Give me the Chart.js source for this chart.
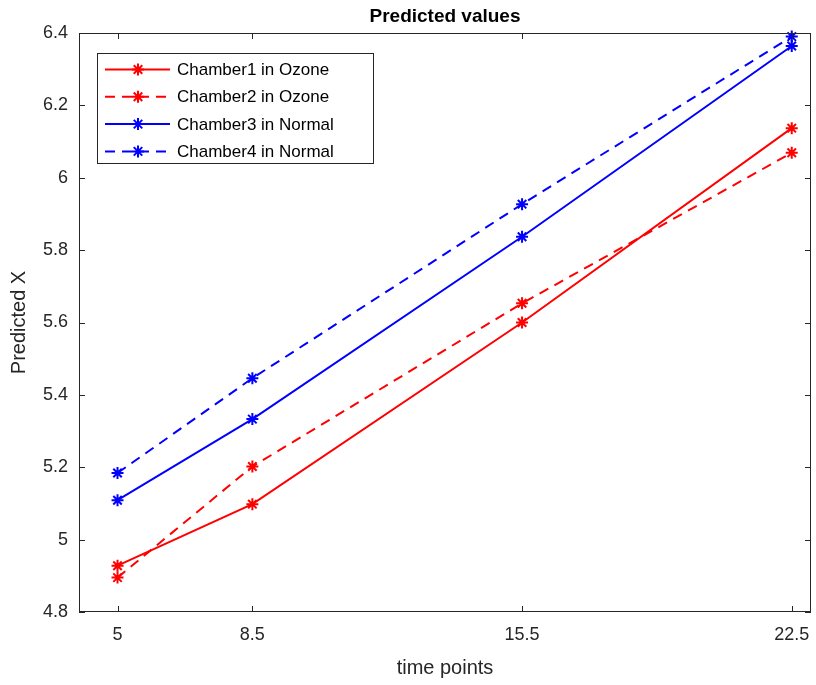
<!DOCTYPE html>
<html>
<head>
<meta charset="utf-8">
<script src="https://cdn.jsdelivr.net/npm/chart.js@4.4.1/dist/chart.umd.min.js"></script>
<style>
  html, body { margin: 0; padding: 0; background: #fff; }
  #wrap { width: 816px; height: 685px; }
</style>
</head>
<body>
<div id="wrap"><canvas id="chart" width="816" height="685"></canvas></div>
<script>
const timePoints = [5, 8.5, 15.5, 22.5];
const chamber1 = [4.928, 5.098, 5.600, 6.137];
const chamber2 = [4.895, 5.202, 5.653, 6.069];
const chamber3 = [5.109, 5.333, 5.837, 6.364];
const chamber4 = [5.184, 5.446, 5.927, 6.390];
const seriesNames = ['Chamber1 in Ozone', 'Chamber2 in Ozone', 'Chamber3 in Normal', 'Chamber4 in Normal'];
const yTicks = [4.8, 5, 5.2, 5.4, 5.6, 5.8, 6, 6.2, 6.4];

const FONT = '"Liberation Sans", Arial, Helvetica, sans-serif';
const INK = '#262626';

const toPts = (vals) => vals.map((v, i) => ({ x: timePoints[i], y: v }));

const mkSet = (label, vals, color, dashed) => ({
  label,
  data: toPts(vals),
  borderColor: color,
  backgroundColor: color,
  borderWidth: 2,
  borderDash: dashed ? [10, 7] : [],
  pointStyle: 'star',
  pointRadius: 6,
  pointHoverRadius: 6,
  pointBorderWidth: 2,
  pointBorderColor: color,
  tension: 0,
  fill: false,
  clip: false,
});

// no extra room for tick label overflow, the layout padding handles it
const noOverflow = (s) => {
  s.paddingLeft = 0; s.paddingRight = 0; s.paddingTop = 0; s.paddingBottom = 0;
};

// box, inward ticks, titles, legend
const matlabLook = {
  id: 'matlabLook',
  afterDraw(chart) {
    const { ctx, chartArea: a, scales } = chart;
    const tl = 6;
    ctx.save();
    ctx.strokeStyle = INK;
    ctx.lineWidth = 1;
    ctx.setLineDash([]);
    ctx.strokeRect(a.left + 0.5, a.top + 0.5, a.right - a.left - 1, a.bottom - a.top - 1);
    ctx.beginPath();
    scales.x.ticks.forEach((t) => {
      const px = Math.round(scales.x.getPixelForValue(t.value)) + 0.5;
      ctx.moveTo(px, a.bottom); ctx.lineTo(px, a.bottom - tl);
      ctx.moveTo(px, a.top); ctx.lineTo(px, a.top + tl);
    });
    scales.y.ticks.forEach((t) => {
      const py = Math.round(scales.y.getPixelForValue(t.value)) + 0.5;
      ctx.moveTo(a.left, py); ctx.lineTo(a.left + tl, py);
      ctx.moveTo(a.right, py); ctx.lineTo(a.right - tl, py);
    });
    ctx.stroke();

    // titles
    const cx = (a.left + a.right) / 2;
    ctx.fillStyle = '#000';
    ctx.textAlign = 'center';
    ctx.textBaseline = 'middle';
    ctx.font = 'bold 19px ' + FONT;
    ctx.fillText('Predicted values', cx, 17);
    ctx.fillStyle = INK;
    ctx.font = '20px ' + FONT;
    ctx.fillText('time points', cx, 668);
    ctx.save();
    ctx.translate(19, (a.top + a.bottom) / 2);
    ctx.rotate(-Math.PI / 2);
    ctx.fillText('Predicted X', 0, 0);
    ctx.restore();

    // legend
    const lx = 97, ly = 53, lw = 276, lh = 110;
    ctx.fillStyle = '#fff';
    ctx.fillRect(lx, ly, lw, lh);
    ctx.strokeStyle = INK;
    ctx.strokeRect(lx + 0.5, ly + 0.5, lw, lh);
    ctx.font = '17px ' + FONT;
    ctx.textAlign = 'left';
    chart.data.datasets.forEach((ds, i) => {
      const y = 69.5 + i * 27.3;
      ctx.strokeStyle = ds.borderColor;
      ctx.lineWidth = 2;
      ctx.setLineDash(ds.borderDash);
      ctx.beginPath();
      ctx.moveTo(105, y); ctx.lineTo(170, y);
      ctx.stroke();
      ctx.setLineDash([]);
      Chart.helpers.drawPoint(ctx, { pointStyle: 'star', radius: 6, rotation: 0, borderWidth: 2 }, 138, y);
      ctx.fillStyle = '#000';
      ctx.fillText(ds.label, 177, y + 1);
    });
    ctx.restore();
  },
};

new Chart(document.getElementById('chart').getContext('2d'), {
  type: 'line',
  data: {
    datasets: [
      mkSet(seriesNames[0], chamber1, '#ff0000', false),
      mkSet(seriesNames[1], chamber2, '#ff0000', true),
      mkSet(seriesNames[2], chamber3, '#0000ff', false),
      mkSet(seriesNames[3], chamber4, '#0000ff', true),
    ],
  },
  options: {
    responsive: false,
    animation: false,
    layout: { autoPadding: false, padding: { left: 0, right: 5, top: 33, bottom: 0 } },
    plugins: { legend: { display: false }, tooltip: { enabled: false }, title: { display: false } },
    scales: {
      x: {
        type: 'linear',
        min: 4,
        max: 23,
        afterBuildTicks: (s) => { s.ticks = timePoints.map((v) => ({ value: v })); },
        afterFit: (s) => { s.height = 73; noOverflow(s); },
        grid: { display: false, drawTicks: false },
        border: { display: false },
        ticks: {
          padding: 12,
          color: INK,
          font: { family: FONT, size: 18 },
          callback: (v) => String(v),
        },
      },
      y: {
        type: 'linear',
        min: 4.8,
        max: 6.4,
        afterBuildTicks: (s) => { s.ticks = yTicks.map((v) => ({ value: v })); },
        afterFit: (s) => { s.width = 79; noOverflow(s); },
        grid: { display: false, drawTicks: false },
        border: { display: false },
        ticks: {
          padding: 11,
          color: INK,
          font: { family: FONT, size: 18 },
          callback: (v) => String(Number(v.toFixed(1))),
        },
      },
    },
  },
  plugins: [matlabLook],
});
</script>
</body>
</html>
